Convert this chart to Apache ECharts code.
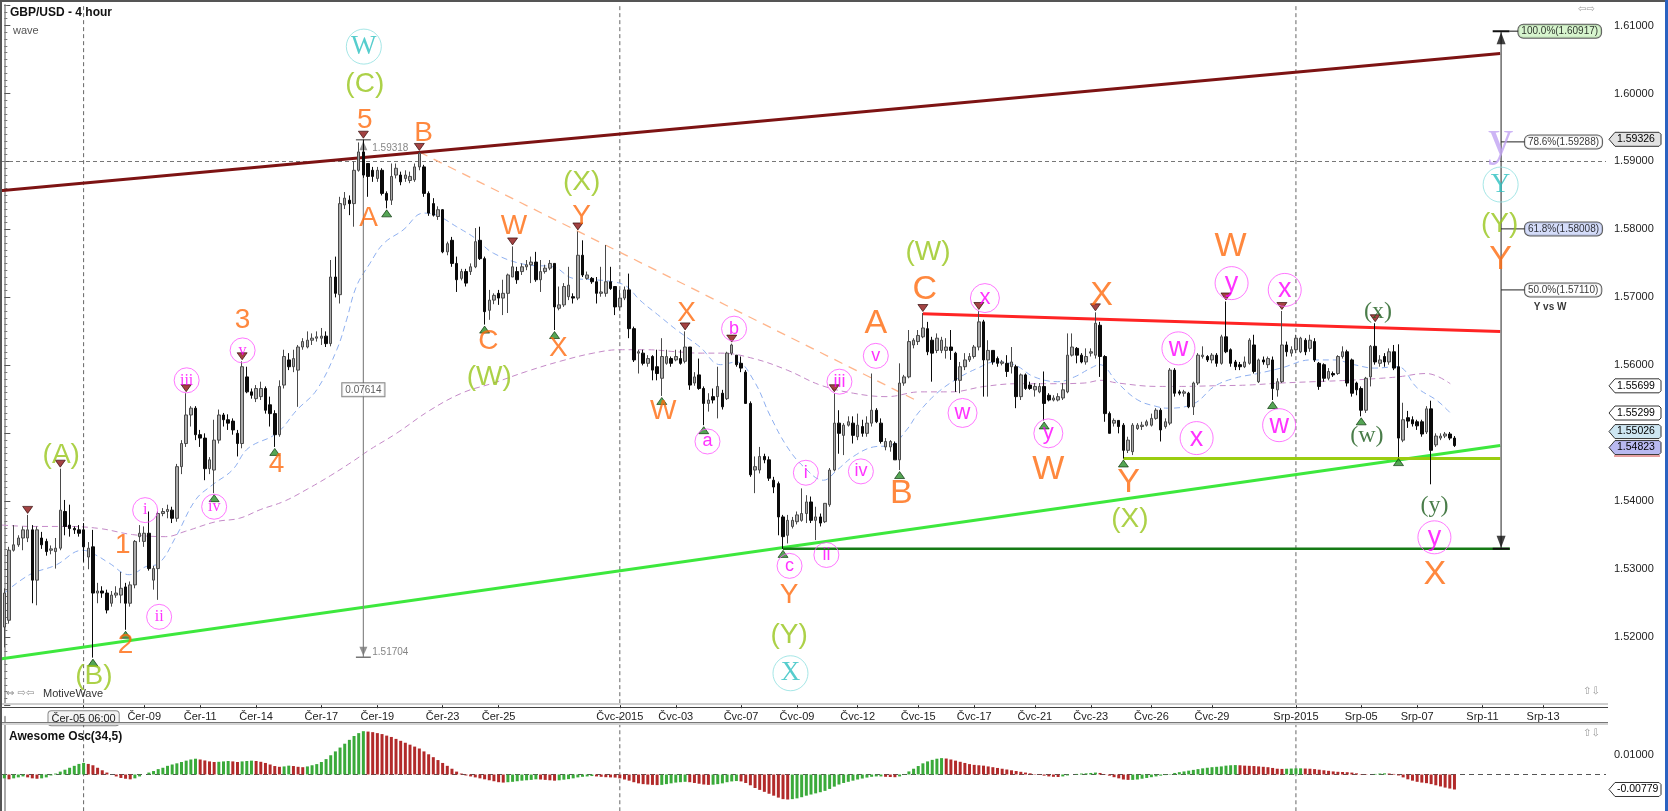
<!DOCTYPE html>
<html><head><meta charset="utf-8"><title>GBP/USD - 4 hour</title>
<script src="https://cdn.jsdelivr.net/npm/echarts@6.0.0/dist/echarts.min.js"></script>
<style>html,body{margin:0;padding:0;background:#fff;}#chart{width:1668px;height:811px;}</style>
</head><body><div id="chart"></div>
<script>
// ---------------- DATA ----------------
const SLOTS = 344;
const timeTicks = [[17,'Čer-05 06:00'],[30,'Čer-09'],[42,'Čer-11'],[54,'Čer-14'],[68,'Čer-17'],[80,'Čer-19'],[94,'Čer-23'],[106,'Čer-25'],[132,'Čvc-2015'],[144,'Čvc-03'],[158,'Čvc-07'],[170,'Čvc-09'],[183,'Čvc-12'],[196,'Čvc-15'],[208,'Čvc-17'],[221,'Čvc-21'],[233,'Čvc-23'],[246,'Čvc-26'],[259,'Čvc-29'],[277,'Srp-2015'],[291,'Srp-05'],[303,'Srp-07'],[317,'Srp-11'],[330,'Srp-13']];
// [open, close, low, high]
const ohlc = [
[1.5215,1.5265,1.5185,1.5272],[1.5225,1.5328,1.5220,1.5333],[1.5328,1.5336,1.5326,1.5365],[1.5336,1.5346,1.5333,1.5350],[1.5346,1.5358,1.5328,1.5363],
[1.5346,1.5358,1.5340,1.5380],[1.5358,1.5284,1.5250,1.5365],[1.5284,1.5358,1.5247,1.5363],[1.5346,1.5336,1.5330,1.5355],[1.5341,1.5326,1.5320,1.5345],
[1.5328,1.5330,1.5322,1.5335],[1.5326,1.5331,1.5301,1.5346],[1.5331,1.5387,1.5328,1.5448],[1.5385,1.5363,1.5350,1.5402],[1.5365,1.5360,1.5348,1.5395],
[1.5360,1.5358,1.5352,1.5363],[1.5358,1.5353,1.5348,1.5365],[1.5358,1.5333,1.5311,1.5368],[1.5318,1.5331,1.5300,1.5340],[1.5333,1.5265,1.5170,1.5358],
[1.5265,1.5268,1.5250,1.5280],[1.5268,1.5265,1.5258,1.5275],[1.5265,1.5240,1.5235,1.5270],[1.5250,1.5262,1.5245,1.5268],[1.5262,1.5265,1.5258,1.5275],
[1.5262,1.5272,1.5250,1.5296],[1.5274,1.5250,1.5211,1.5280],[1.5250,1.5277,1.5245,1.5282],[1.5277,1.5341,1.5272,1.5343],[1.5348,1.5353,1.5340,1.5365],
[1.5341,1.5353,1.5333,1.5363],[1.5353,1.5301,1.5298,1.5385],[1.5284,1.5301,1.5270,1.5305],[1.5301,1.5382,1.5255,1.5385],[1.5382,1.5385,1.5378,1.5390],
[1.5385,1.5388,1.5375,1.5395],[1.5387,1.5375,1.5368,1.5392],[1.5375,1.5451,1.5370,1.5455],[1.5451,1.5485,1.5440,1.5490],[1.5485,1.5527,1.5480,1.5559],
[1.5527,1.5537,1.5510,1.5540],[1.5537,1.5498,1.5490,1.5540],[1.5498,1.5493,1.5480,1.5505],[1.5493,1.5448,1.5431,1.5500],[1.5448,1.5461,1.5440,1.5465],
[1.5446,1.5490,1.5412,1.5520],[1.5490,1.5527,1.5485,1.5535],[1.5527,1.5520,1.5510,1.5530],[1.5520,1.5515,1.5505,1.5528],[1.5518,1.5505,1.5498,1.5522],
[1.5500,1.5485,1.5466,1.5505],[1.5485,1.5598,1.5478,1.5606],[1.5583,1.5561,1.5559,1.5598],[1.5561,1.5556,1.5551,1.5566],[1.5551,1.5566,1.5546,1.5571],
[1.5554,1.5566,1.5549,1.5576],[1.5566,1.5534,1.5529,1.5569],[1.5542,1.5529,1.5510,1.5554],[1.5529,1.5498,1.5480,1.5534],[1.5498,1.5569,1.5495,1.5578],
[1.5571,1.5613,1.5566,1.5623],[1.5608,1.5598,1.5593,1.5618],[1.5598,1.5610,1.5590,1.5623],[1.5593,1.5627,1.5539,1.5630],[1.5627,1.5635,1.5623,1.5640],
[1.5627,1.5637,1.5625,1.5650],[1.5637,1.5640,1.5630,1.5647],[1.5640,1.5642,1.5635,1.5650],[1.5640,1.5643,1.5630,1.5655],[1.5643,1.5632,1.5627,1.5650],
[1.5632,1.5730,1.5628,1.5755],[1.5730,1.5706,1.5700,1.5760],[1.5704,1.5838,1.5691,1.5848],[1.5836,1.5846,1.5830,1.5855],[1.5843,1.5838,1.5821,1.5850],
[1.5838,1.5887,1.5804,1.5900],[1.5887,1.5914,1.5885,1.5928],[1.5914,1.5880,1.5876,1.5932],[1.5897,1.5878,1.5848,1.5897],[1.5887,1.5878,1.5870,1.5892],
[1.5875,1.5887,1.5870,1.5892],[1.5887,1.5853,1.5850,1.5890],[1.5853,1.5843,1.5831,1.5856],[1.5843,1.5878,1.5836,1.5897],[1.5880,1.5890,1.5875,1.5897],
[1.5880,1.5870,1.5865,1.5885],[1.5875,1.5880,1.5870,1.5887],[1.5872,1.5878,1.5868,1.5885],[1.5873,1.5892,1.5870,1.5897],[1.5892,1.5912,1.5887,1.5914],
[1.5892,1.5853,1.5848,1.5895],[1.5853,1.5824,1.5820,1.5856],[1.5838,1.5821,1.5819,1.5846],[1.5819,1.5829,1.5814,1.5834],[1.5829,1.5767,1.5765,1.5830],
[1.5767,1.5779,1.5762,1.5782],[1.5784,1.5750,1.5745,1.5789],[1.5750,1.5726,1.5708,1.5760],[1.5728,1.5738,1.5725,1.5742],[1.5738,1.5721,1.5716,1.5742],
[1.5738,1.5745,1.5733,1.5750],[1.5745,1.5782,1.5743,1.5802],[1.5784,1.5757,1.5755,1.5804],[1.5757,1.5679,1.5660,1.5760],[1.5681,1.5696,1.5667,1.5711],
[1.5696,1.5703,1.5690,1.5706],[1.5706,1.5699,1.5689,1.5711],[1.5699,1.5706,1.5674,1.5726],[1.5706,1.5733,1.5677,1.5735],[1.5730,1.5745,1.5730,1.5775],
[1.5738,1.5726,1.5720,1.5745],[1.5738,1.5745,1.5733,1.5750],[1.5745,1.5748,1.5740,1.5755],[1.5748,1.5752,1.5721,1.5760],[1.5752,1.5726,1.5723,1.5767],
[1.5726,1.5738,1.5708,1.5755],[1.5738,1.5743,1.5735,1.5748],[1.5743,1.5750,1.5740,1.5755],[1.5750,1.5686,1.5652,1.5750],[1.5684,1.5689,1.5681,1.5716],
[1.5689,1.5716,1.5686,1.5721],[1.5701,1.5718,1.5696,1.5745],[1.5701,1.5699,1.5691,1.5706],[1.5699,1.5762,1.5696,1.5797],[1.5762,1.5733,1.5730,1.5784],
[1.5728,1.5733,1.5726,1.5738],[1.5728,1.5723,1.5720,1.5730],[1.5723,1.5706,1.5691,1.5730],[1.5706,1.5708,1.5701,1.5745],[1.5706,1.5723,1.5701,1.5777],
[1.5723,1.5713,1.5711,1.5745],[1.5716,1.5686,1.5674,1.5716],[1.5686,1.5699,1.5681,1.5711],[1.5699,1.5711,1.5696,1.5716],[1.5711,1.5654,1.5640,1.5735],
[1.5654,1.5608,1.5605,1.5657],[1.5618,1.5620,1.5588,1.5623],[1.5618,1.5603,1.5600,1.5623],[1.5603,1.5610,1.5598,1.5615],[1.5613,1.5593,1.5578,1.5615],
[1.5598,1.5588,1.5578,1.5623],[1.5581,1.5613,1.5555,1.5640],[1.5603,1.5613,1.5601,1.5623],[1.5610,1.5603,1.5598,1.5613],[1.5608,1.5613,1.5606,1.5623],
[1.5610,1.5603,1.5601,1.5623],[1.5606,1.5627,1.5603,1.5650],[1.5627,1.5571,1.5564,1.5627],[1.5574,1.5583,1.5570,1.5590],[1.5586,1.5566,1.5564,1.5610],
[1.5566,1.5544,1.5512,1.5569],[1.5544,1.5549,1.5532,1.5559],[1.5554,1.5549,1.5544,1.5566],[1.5554,1.5569,1.5522,1.5598],[1.5559,1.5539,1.5535,1.5564],
[1.5551,1.5618,1.5549,1.5620],[1.5618,1.5630,1.5615,1.5632],[1.5615,1.5601,1.5598,1.5615],[1.5603,1.5596,1.5590,1.5613],[1.5590,1.5544,1.5544,1.5593],
[1.5544,1.5439,1.5436,1.5547],[1.5446,1.5451,1.5412,1.5466],[1.5446,1.5466,1.5441,1.5480],[1.5466,1.5461,1.5456,1.5470],[1.5461,1.5434,1.5430,1.5466],
[1.5431,1.5421,1.5412,1.5436],[1.5426,1.5377,1.5350,1.5429],[1.5377,1.5348,1.5330,1.5380],[1.5350,1.5372,1.5338,1.5380],[1.5363,1.5372,1.5360,1.5377],
[1.5370,1.5380,1.5366,1.5385],[1.5372,1.5382,1.5370,1.5419],[1.5382,1.5399,1.5368,1.5409],[1.5399,1.5372,1.5368,1.5407],[1.5372,1.5377,1.5343,1.5392],
[1.5377,1.5368,1.5363,1.5382],[1.5370,1.5397,1.5368,1.5397],[1.5395,1.5446,1.5392,1.5449],[1.5446,1.5515,1.5444,1.5559],[1.5515,1.5500,1.5470,1.5534],
[1.5497,1.5512,1.5468,1.5515],[1.5512,1.5517,1.5510,1.5525],[1.5515,1.5497,1.5485,1.5525],[1.5495,1.5512,1.5490,1.5529],[1.5510,1.5500,1.5495,1.5520],
[1.5500,1.5515,1.5495,1.5525],[1.5515,1.5534,1.5510,1.5588],[1.5534,1.5517,1.5515,1.5537],[1.5515,1.5488,1.5485,1.5522],[1.5480,1.5488,1.5475,1.5493],
[1.5480,1.5488,1.5473,1.5490],[1.5485,1.5461,1.5461,1.5488],[1.5461,1.5574,1.5446,1.5603],[1.5574,1.5583,1.5570,1.5586],[1.5583,1.5635,1.5581,1.5652],
[1.5630,1.5637,1.5625,1.5640],[1.5635,1.5644,1.5630,1.5652],[1.5642,1.5655,1.5640,1.5677],[1.5654,1.5620,1.5615,1.5664],[1.5637,1.5618,1.5576,1.5642],
[1.5622,1.5640,1.5618,1.5647],[1.5622,1.5637,1.5618,1.5642],[1.5622,1.5627,1.5610,1.5640],[1.5627,1.5622,1.5608,1.5652],[1.5618,1.5578,1.5561,1.5620],
[1.5578,1.5598,1.5559,1.5605],[1.5598,1.5608,1.5593,1.5618],[1.5608,1.5613,1.5605,1.5618],[1.5613,1.5627,1.5610,1.5630],[1.5627,1.5664,1.5622,1.5680],
[1.5664,1.5608,1.5554,1.5667],[1.5608,1.5622,1.5554,1.5637],[1.5622,1.5605,1.5601,1.5622],[1.5610,1.5603,1.5598,1.5613],[1.5603,1.5605,1.5600,1.5608],
[1.5603,1.5591,1.5583,1.5615],[1.5598,1.5605,1.5588,1.5627],[1.5598,1.5554,1.5537,1.5601],[1.5554,1.5586,1.5549,1.5588],[1.5586,1.5566,1.5564,1.5588],
[1.5571,1.5566,1.5564,1.5576],[1.5564,1.5569,1.5554,1.5574],[1.5561,1.5569,1.5559,1.5574],[1.5569,1.5544,1.5519,1.5591],[1.5556,1.5549,1.5547,1.5559],
[1.5549,1.5552,1.5547,1.5556],[1.5549,1.5554,1.5547,1.5559],[1.5552,1.5564,1.5549,1.5574],[1.5561,1.5615,1.5559,1.5647],[1.5615,1.5627,1.5613,1.5647],
[1.5625,1.5615,1.5603,1.5627],[1.5615,1.5605,1.5603,1.5618],[1.5605,1.5613,1.5601,1.5625],[1.5618,1.5620,1.5613,1.5625],[1.5615,1.5662,1.5610,1.5678],
[1.5659,1.5613,1.5583,1.5664],[1.5613,1.5529,1.5517,1.5615],[1.5529,1.5500,1.5500,1.5532],[1.5515,1.5519,1.5510,1.5522],[1.5519,1.5510,1.5500,1.5519],
[1.5512,1.5475,1.5463,1.5515],[1.5475,1.5490,1.5471,1.5495],[1.5473,1.5512,1.5468,1.5515],[1.5507,1.5512,1.5505,1.5515],[1.5510,1.5512,1.5505,1.5517],
[1.5512,1.5517,1.5510,1.5520],[1.5512,1.5522,1.5510,1.5529],[1.5522,1.5534,1.5520,1.5537],[1.5534,1.5505,1.5488,1.5537],[1.5510,1.5517,1.5507,1.5522],
[1.5515,1.5593,1.5512,1.5596],[1.5593,1.5559,1.5554,1.5596],[1.5561,1.5559,1.5556,1.5564],[1.5559,1.5561,1.5554,1.5564],[1.5559,1.5539,1.5537,1.5561],
[1.5539,1.5574,1.5527,1.5576],[1.5574,1.5615,1.5571,1.5618],[1.5613,1.5615,1.5610,1.5628],[1.5613,1.5608,1.5605,1.5615],[1.5608,1.5615,1.5603,1.5618],
[1.5615,1.5603,1.5598,1.5618],[1.5603,1.5642,1.5601,1.5645],[1.5642,1.5620,1.5618,1.5694],[1.5623,1.5603,1.5598,1.5625],[1.5605,1.5598,1.5593,1.5608],
[1.5601,1.5598,1.5593,1.5605],[1.5598,1.5605,1.5596,1.5613],[1.5603,1.5637,1.5601,1.5640],[1.5630,1.5591,1.5588,1.5645],[1.5576,1.5608,1.5574,1.5610],
[1.5608,1.5605,1.5601,1.5613],[1.5601,1.5610,1.5596,1.5613],[1.5608,1.5566,1.5549,1.5613],[1.5564,1.5576,1.5554,1.5581],[1.5576,1.5630,1.5574,1.5680],
[1.5630,1.5620,1.5613,1.5635],[1.5618,1.5623,1.5613,1.5628],[1.5623,1.5640,1.5618,1.5645],[1.5620,1.5640,1.5618,1.5642],[1.5637,1.5620,1.5615,1.5640],
[1.5625,1.5637,1.5620,1.5645],[1.5635,1.5608,1.5605,1.5640],[1.5603,1.5569,1.5564,1.5605],[1.5601,1.5581,1.5576,1.5603],[1.5581,1.5591,1.5578,1.5596],
[1.5588,1.5586,1.5583,1.5591],[1.5588,1.5613,1.5586,1.5615],[1.5613,1.5620,1.5610,1.5628],[1.5620,1.5574,1.5569,1.5623],[1.5608,1.5559,1.5554,1.5610],
[1.5574,1.5564,1.5556,1.5576],[1.5566,1.5534,1.5525,1.5569],[1.5534,1.5581,1.5530,1.5583],[1.5583,1.5628,1.5569,1.5630],[1.5628,1.5605,1.5601,1.5662],
[1.5603,1.5608,1.5598,1.5615],[1.5613,1.5605,1.5598,1.5618],[1.5605,1.5620,1.5601,1.5625],[1.5620,1.5596,1.5593,1.5630],[1.5598,1.5493,1.5465,1.5631],
[1.5490,1.5520,1.5487,1.5545],[1.5523,1.5518,1.5508,1.5533],[1.5520,1.5514,1.5510,1.5525],[1.5517,1.5511,1.5505,1.5520],[1.5517,1.5499,1.5495,1.5520],
[1.5502,1.5536,1.5499,1.5540],[1.5536,1.5475,1.5425,1.5548],[1.5483,1.5496,1.5480,1.5500],[1.5493,1.5496,1.5490,1.5500],[1.5496,1.5499,1.5493,1.5502],
[1.5499,1.5493,1.5490,1.5502],[1.5493,1.5482,1.5480,1.5496]
];
const aoValues = [
-0.0020,-0.0025,-0.0020,-0.0015,-0.0010,-0.0015,-0.0020,-0.0022,-0.0020,-0.0015,
-0.0005,0.0005,0.0015,0.0025,0.0035,0.0045,0.0055,0.0060,0.0055,0.0048,
0.0035,0.0022,0.0010,0.0000,-0.0010,-0.0018,-0.0022,-0.0025,-0.0020,
-0.0010,0.0000,0.0010,0.0018,0.0028,0.0035,0.0045,0.0052,0.0058,0.0065,0.0072,0.0078,0.0082,
0.0078,0.0073,0.0068,0.0065,0.0066,0.0068,0.0070,0.0068,0.0065,0.0068,0.0070,0.0072,0.0070,0.0066,0.0060,0.0052,0.0044,0.0040,0.0042,0.0046,0.0044,0.0040,0.0038,0.0042,0.0048,0.0054,
0.0065,0.0080,0.0100,0.0120,0.0140,0.0160,0.0180,0.0200,0.0215,0.0225,
0.0223,0.0220,0.0215,0.0210,0.0202,0.0195,0.0185,0.0175,0.0165,0.0155,0.0145,0.0135,0.0120,0.0105,0.0090,0.0075,0.0060,0.0045,0.0030,0.0015,0.0005,-0.0005,
-0.0010,-0.0015,-0.0020,-0.0025,-0.0030,-0.0035,-0.0040,-0.0042,-0.0040,-0.0038,-0.0035,-0.0032,-0.0030,-0.0028,-0.0025,-0.0026,-0.0028,-0.0030,-0.0032,-0.0030,-0.0027,-0.0024,-0.0020,-0.0015,-0.0012,-0.0010,-0.0008,-0.0010,
-0.0012,-0.0014,-0.0015,-0.0016,-0.0020,-0.0026,-0.0032,-0.0040,-0.0046,-0.0050,-0.0052,-0.0054,-0.0055,-0.0054,-0.0050,-0.0046,-0.0042,-0.0040,-0.0038,
-0.0040,-0.0044,-0.0048,-0.0052,-0.0054,-0.0053,-0.0050,-0.0046,-0.0040,-0.0036,-0.0034,-0.0036,-0.0044,-0.0056,-0.0070,-0.0080,-0.0090,-0.0100,-0.0110,-0.0120,-0.0128,-0.0130,-0.0128,-0.0124,-0.0118,-0.0110,-0.0104,-0.0098,-0.0092,
-0.0085,-0.0075,-0.0063,-0.0052,-0.0044,-0.0038,-0.0032,-0.0026,-0.0021,-0.0016,-0.0012,-0.0010,-0.0010,-0.0012,-0.0013,-0.0014,-0.0010,0.0002,0.0016,0.0030,0.0044,
0.0058,0.0068,0.0076,0.0082,0.0085,0.0083,0.0078,0.0072,0.0066,0.0060,0.0054,0.0050,0.0048,0.0046,0.0042,0.0038,
0.0034,0.0030,0.0026,0.0022,0.0018,0.0014,0.0010,0.0006,0.0002,-0.0002,-0.0006,-0.0010,-0.0012,-0.0013,-0.0010,-0.0005,0.0000,0.0003,0.0005,0.0006,0.0008,0.0010,0.0008,0.0002,-0.0006,-0.0014,-0.0020,-0.0026,
-0.0028,-0.0028,-0.0026,-0.0022,-0.0018,-0.0014,-0.0010,-0.0006,-0.0003,0.0002,0.0008,0.0012,0.0016,0.0020,0.0024,0.0028,0.0032,0.0035,0.0038,0.0040,0.0042,0.0046,
0.0048,0.0049,0.0048,0.0046,0.0045,0.0044,0.0042,0.0040,0.0038,0.0034,0.0030,0.0029,0.0030,0.0031,0.0032,0.0032,0.0031,0.0030,0.0028,0.0025,0.0022,0.0019,0.0016,0.0014,0.0013,0.0012,0.0010,0.0006,
0.0002,-0.0002,0.0000,0.0003,0.0005,0.0006,0.0005,0.0003,-0.0005,-0.0015,-0.0025,-0.0032,-0.0038,-0.0042,-0.0045,-0.0050,-0.0056,-0.0062,-0.0068,-0.0073,-0.00779
];
const maBlue = [[0,1.5265],[5.4,1.5292],[11,1.5306],[16.8,1.5328],[19.6,1.5321],[22.5,1.5309],[26.8,1.5292],[30.4,1.5304],[33.2,1.5309],[36.8,1.5348],[41,1.5402],[44.6,1.5424],[48.9,1.5446],[52.3,1.5478],[58.4,1.5500],[62.7,1.5534],[67,1.5564],[71.3,1.5623],[73.4,1.5667],[75.5,1.5716],[78.4,1.5750],[81.3,1.5779],[85.5,1.5799],[89.9,1.5824],[92.7,1.5821],[97,1.5804],[101,1.5787],[104.9,1.5765],[112,1.5748],[117.7,1.5745],[122,1.5728],[126.3,1.5726],[130.6,1.5723],[133.5,1.5716],[136.3,1.5696],[140.6,1.5672],[144.2,1.5652],[149.2,1.5627],[153.6,1.5601],[157,1.5605],[160.7,1.5578],[164.3,1.5525],[167.9,1.5480],[171.4,1.5451],[175.7,1.5431],[178.6,1.5446],[182.1,1.5466],[186.4,1.5480],[190,1.5482],[193.5,1.5505],[196,1.5530],[200,1.5559],[204.5,1.5581],[208.8,1.5596],[212.4,1.5605],[216.6,1.5601],[220.9,1.5583],[225.9,1.5576],[229.5,1.5583],[233,1.5596],[234.9,1.5601],[238.8,1.5574],[243.1,1.5549],[247.4,1.5539],[249.5,1.5537],[255.2,1.5544],[259.5,1.5569],[263.8,1.5581],[268.8,1.5588],[273.8,1.5596],[280.2,1.5608],[285.2,1.5608],[289.5,1.5601],[293.8,1.5596],[298.8,1.5598],[303,1.5567],[307.3,1.5548],[310.1,1.5530]];
const maPurple = [[-0.5,1.5365],[6,1.5363],[13.2,1.5363],[20.4,1.5360],[27.5,1.5351],[34.6,1.5348],[38.9,1.5356],[45.4,1.5370],[50.4,1.5375],[55,1.5388],[60,1.5400],[65,1.5418],[70,1.5438],[75,1.5460],[78.4,1.5476],[84.1,1.5500],[91.3,1.5534],[98.4,1.5560],[104.9,1.5574],[112,1.5591],[119.2,1.5606],[126.3,1.5618],[132,1.5623],[137.7,1.5623],[144.2,1.5620],[149.2,1.5618],[153.6,1.5618],[160.7,1.5610],[167.9,1.5593],[175,1.5571],[182.1,1.5559],[189.3,1.5554],[196.4,1.5561],[203,1.5561],[210.2,1.5569],[217.4,1.5573],[224.5,1.5573],[231.6,1.5574],[235.2,1.5578],[238.8,1.5574],[247.4,1.5569],[252.4,1.5569],[259.5,1.5570],[266.6,1.5571],[273.8,1.5574],[280.9,1.5576],[288.1,1.5578],[295.2,1.5581],[298.8,1.5583],[305,1.5588],[310.1,1.5573]];
// wave labels: [text, index, price]
const waveOrange = [['1',25.4,1.5336],['2',26.0,1.5188],['3',51.1,1.5667],['4',58.4,1.5454],['5',77.3,1.5961],['A',78.1,1.5816],['B',89.9,1.5941],['C',103.8,1.5635],['W',109.3,1.5804],['X',118.8,1.5625],['Y',123.8,1.5819],['W',141.3,1.5532],['X',146.3,1.5677],['Y',168.3,1.5261]];
const waveOrangeLarge = [['A',186.9,1.5662],['B',192.4,1.5412],['C',197.4,1.5711],['W',223.9,1.5446],['X',235.3,1.5703],['Y',241.1,1.5427],['W',263.0,1.5774],['X',306.8,1.5292],['Y',320.9,1.5755]];
const waveLime = [['(A)',12.2,1.5468],['(B)',19.2,1.5142],['(C)',77.3,1.6013],['(W)',104.0,1.5583],['(X)',123.8,1.5870],['(Y)',168.3,1.5203],['(W)',198.1,1.5767],['(X)',241.4,1.5374],['(Y)',320.7,1.5807]];
const pinkRoman = [['i',30.2,1.5387],['ii',33.2,1.5230],['iii',39.1,1.5578],['iv',45.0,1.5392],['v',51.1,1.5622]];
const pinkSmall = [['a',150.8,1.5488],['b',156.5,1.5654],['c',168.4,1.5305],['i',171.9,1.5442],['ii',176.3,1.5321],['iii',179.1,1.5576],['iv',183.7,1.5444],['v',186.9,1.5614]];
const pinkMedium = [['w',205.5,1.5530],['x',210.3,1.5699],['y',223.9,1.5500]];
const pinkLarge = [['w',251.8,1.5625],['x',255.7,1.5493],['y',263.2,1.5721],['w',273.4,1.5512],['x',274.6,1.5711],['y',306.7,1.5347]];
const waveCyan = [['W',77.1,1.6069],['X',168.6,1.5147],['Y',320.9,1.5866]];
const waveDarkGreen = [['(x)',294.6,1.5679],['(w)',292.2,1.5496],['(y)',306.7,1.5394]];
const waveLavender = [['y',320.9,1.5931]];
const highMarks = [5,12,39,51,77,89,109,123,146,156,178,197,209,234,262,274,294];
const lowMarks = [19,26,45,58,82,103,118,141,150,167,192,223,240,272,291,299];
// trend lines [index, price]
const channelTop = [[-0.93,1.5857],[320.8,1.6059]];
const channelBottom = [[-0.93,1.5168],[320.8,1.5482]];
const triangleTop = [[197,1.5676],[320.8,1.5650]];
const yLowLine = [[240,1.5463],[320.8,1.5463]];
const cLowLine = [[167,1.53303],[322.9,1.53303]];
const bDashLine = [[89,1.5914],[196,1.5547]];
const fibLevels = [['100.0%(1.60917)',1.60917],['78.6%(1.59288)',1.59288],['61.8%(1.58008)',1.58008],['50.0%(1.57110)',1.57110]];
const fibBase = 1.53303, fibTop = 1.60917, fibIndex = 321;
const measure = {index:77, top:1.59318, bottom:1.51704, text:'0.07614', mid:1.5564};
const crosshair = {index:17, price:1.59326};
const separators = [132, 277];
// price-axis value tags: [text, price]
const axisMarks = [['1.59326',1.59326],['1.55699',1.55699],['1.55299',1.55299],['1.55026',1.55026],['1.54823',1.54823]];
const aoLast = -0.00779;

// ---------------- CHART ----------------
const chart = echarts.init(document.getElementById('chart'), null, {width:1668, height:811});
const cats = Array.from({length: SLOTS}, (_, i) => String(i));
const tickMap = new Map(timeTicks.map(t => [t[0], t[1]]));
const SANS = 'Liberation Sans, Arial, sans-serif';
const SERIF = 'Liberation Serif, Times New Roman, serif';
const CLEAR = 'rgba(255,255,255,0)';

function lineSeries(data, color, width, type, z, xi, yi) {
  return {type:'line', xAxisIndex: xi === undefined ? 1 : xi, yAxisIndex: yi === undefined ? 0 : yi, data, symbol:'none', silent:true, z: z || 5,
    lineStyle:{color, width, type: type || 'solid'}, animation:false, emphasis:{disabled:true}};
}
function textSeries(arr, opt) {
  return {type:'scatter', xAxisIndex:1, yAxisIndex:0, silent:true, z: opt.z || 30, animation:false,
    symbol:'circle', symbolSize: opt.ring ? opt.ring : 1,
    itemStyle: opt.ring ? {color:CLEAR, borderColor: opt.ringColor, borderWidth: 1} : {color:CLEAR},
    label:{show:true, position:'inside', formatter:'{b}', color: opt.color, fontSize: opt.size, fontFamily: opt.font || SANS, fontWeight: opt.weight || 'normal'},
    emphasis:{disabled:true},
    data: arr.map(a => ({name:a[0], value:[a[1], a[2]]}))};
}

const series = [];
// candles
series.push({type:'candlestick', xAxisIndex:0, yAxisIndex:0, data: ohlc, barWidth:3, z:10, animation:false, silent:true,
  itemStyle:{color:'#a9a9a9', color0:'#0a0a0a', borderColor:'#4a4a4a', borderColor0:'#0a0a0a', borderWidth:1},
  markLine:{silent:true, symbol:['none','none'], animation:false,
    data:[{yAxis: crosshair.price, lineStyle:{color:'#777', type:[4,3], width:1}, label:{show:false}}]}});
// moving averages
series.push(Object.assign(lineSeries(maBlue, '#8fb0f0', 1, [6,4], 6), {smooth:0.4}));
series.push(Object.assign(lineSeries(maPurple, '#c58ac8', 1, [6,4], 6), {smooth:0.4}));
// trend lines
series.push(lineSeries(channelTop, '#7d1313', 3, 'solid', 8));
series.push(lineSeries(channelBottom, '#3de83d', 3, 'solid', 8));
series.push(lineSeries(triangleTop, '#ff2424', 3, 'solid', 8));
series.push(lineSeries(yLowLine, '#9acd10', 3, 'solid', 8));
series.push(lineSeries(cLowLine, '#157a15', 2.5, 'solid', 8));
series.push(lineSeries(bDashLine, '#ffb48a', 1.3, [9,7], 7));
// separators / crosshair vertical
[crosshair.index].concat(separators).forEach(ix => {
  series.push(lineSeries([[ix,1.50],[ix,1.62]], '#666', 1, [4,3], 4));
  series.push(lineSeries([[ix,-0.03],[ix,0.04]], '#666', 1, [4,3], 4, 3, 1));
});
// measurement tool
series.push(lineSeries([[measure.index, measure.top],[measure.index, measure.bottom]], '#888', 1.2, 'solid', 9));
series.push(lineSeries([[measure.index-1.6, measure.top],[measure.index+1.6, measure.top]], '#777', 1.5, 'solid', 9));
series.push(lineSeries([[measure.index-1.6, measure.bottom],[measure.index+1.6, measure.bottom]], '#777', 1.5, 'solid', 9));
series.push({type:'scatter', xAxisIndex:1, yAxisIndex:0, silent:true, z:9, animation:false, symbol:'triangle', symbolSize:[8,9], symbolOffset:[0,6],
  itemStyle:{color:'#777'}, data:[[measure.index, measure.top]]});
series.push({type:'scatter', xAxisIndex:1, yAxisIndex:0, silent:true, z:9, animation:false, symbol:'path://M0,0 L10,0 L5,10 Z', symbolSize:[8,9], symbolOffset:[0,-6],
  itemStyle:{color:'#777'}, data:[[measure.index, measure.bottom]]});
series.push({type:'scatter', xAxisIndex:1, yAxisIndex:0, silent:true, z:12, animation:false, symbol:'circle', symbolSize:1, itemStyle:{color:CLEAR},
  label:{show:true, position:'inside', formatter:'{b}', fontSize:10, fontFamily:SANS, color:'#333', backgroundColor:'#fff', borderColor:'#666', borderWidth:1, padding:[2,3,1,3]},
  data:[{name:measure.text, value:[measure.index, measure.mid]}]});
series.push({type:'scatter', xAxisIndex:1, yAxisIndex:0, silent:true, z:12, animation:false, symbol:'circle', symbolSize:1, itemStyle:{color:CLEAR},
  label:{show:true, position:'right', distance:0, formatter:'{b}', fontSize:10, fontFamily:SANS, color:'#666'},
  data:[{name:measure.top.toFixed(5), value:[78.8, 1.5919]},{name:measure.bottom.toFixed(5), value:[78.8, 1.5178]}]});
// fibonacci tool
series.push(lineSeries([[fibIndex, fibBase],[fibIndex, fibTop]], '#222', 1, 'solid', 15));
series.push(lineSeries([[fibIndex-1.8, fibTop],[fibIndex+1.8, fibTop]], '#111', 2, 'solid', 15));
series.push(lineSeries([[fibIndex+1.8, fibTop],[fibIndex+3.8, fibTop]], '#111', 1, 'solid', 15));
series.push(lineSeries([[fibIndex-1.8, fibBase],[fibIndex+1.8, fibBase]], '#111', 2, 'solid', 15));
fibLevels.slice(1).forEach(f => series.push(lineSeries([[fibIndex, f[1]],[fibIndex+5.1, f[1]]], '#222', 1, 'solid', 15)));
series.push({type:'scatter', xAxisIndex:1, yAxisIndex:0, silent:true, z:16, animation:false, symbol:'triangle', symbolSize:[9,12], symbolOffset:[0,7],
  itemStyle:{color:'#111'}, data:[[fibIndex, fibTop]]});
series.push({type:'scatter', xAxisIndex:1, yAxisIndex:0, silent:true, z:16, animation:false, symbol:'path://M0,0 L10,0 L5,12 Z', symbolSize:[9,12], symbolOffset:[0,-7],
  itemStyle:{color:'#111'}, data:[[fibIndex, fibBase]]});
const fibBg = ['#cdf3c2', '#ffffff', '#c9d3f7', '#ffffff'];
series.push({type:'scatter', xAxisIndex:1, yAxisIndex:0, silent:true, z:17, animation:false, symbol:'circle', symbolSize:1, itemStyle:{color:CLEAR},
  label:{show:true, position:'right', distance:0, formatter:'{b}', fontSize:10, fontFamily:SANS, color:'#000', borderColor:'#333', borderWidth:1, borderRadius:5, padding:[2,3,1,3]},
  data: fibLevels.map((f, k) => ({name:f[0], value:[k === 0 ? 324.6 : 326.0, f[1]], label:{backgroundColor: fibBg[k]}}))});
series.push({type:'scatter', xAxisIndex:1, yAxisIndex:0, silent:true, z:17, animation:false, symbol:'circle', symbolSize:1, itemStyle:{color:CLEAR},
  label:{show:true, position:'inside', formatter:'{b}', fontSize:10, fontFamily:SANS, fontWeight:'bold', color:'#000'},
  data:[{name:'Y vs W', value:[331.5, 1.5686]}]});
// swing markers
series.push({type:'scatter', xAxisIndex:1, yAxisIndex:0, silent:true, z:20, animation:false, symbol:'path://M0,0 L10,0 L5,7 Z', symbolSize:[10,7], symbolOffset:[0,-5],
  itemStyle:{color:'#8c1414', borderColor:'#2a0000', borderWidth:0.8}, data: highMarks.map(i => [i, ohlc[i][3]])});
series.push({type:'scatter', xAxisIndex:1, yAxisIndex:0, silent:true, z:20, animation:false, symbol:'path://M5,0 L10,7 L0,7 Z', symbolSize:[10,7], symbolOffset:[0,5],
  itemStyle:{color:'#2b8f2b', borderColor:'#002a00', borderWidth:0.8}, data: lowMarks.map(i => [i, ohlc[i][2]])});
// wave labels
series.push(textSeries(waveOrange, {color:'#ff6a0e', size:28}));
series.push(textSeries(waveOrangeLarge, {color:'#ff6a0e', size:34}));
series.push(textSeries(waveLime, {color:'#97c61a', size:28}));
series.push(textSeries(pinkRoman, {color:'#ff00ff', size:16, font:SERIF, ring:25, ringColor:'#ff55ff'}));
series.push(textSeries(pinkSmall, {color:'#ff00ff', size:18, ring:25, ringColor:'#ff55ff'}));
series.push(textSeries(pinkMedium, {color:'#ff00ff', size:22, ring:29, ringColor:'#ff55ff'}));
series.push(textSeries(pinkLarge, {color:'#ff00ff', size:27, ring:33, ringColor:'#ff55ff'}));
series.push(textSeries(waveCyan, {color:'#2cc0c0', size:27, font:SERIF, ring:35, ringColor:'#8fe0e0'}));
series.push(textSeries(waveDarkGreen, {color:'#1d5c1d', size:24, font:SERIF}));
series.push(textSeries(waveLavender, {color:'#c1a2f2', size:50, font:SERIF}));
// awesome oscillator
series.push({type:'bar', xAxisIndex:2, yAxisIndex:1, barWidth:3, silent:true, animation:false, z:5,
  data: aoValues.map((v, i) => ({value:v, itemStyle:{color: (i > 0 && v < aoValues[i-1]) ? '#b22a2a' : '#3aaa3a'}})),
  markLine:{silent:true, symbol:['none','none'], animation:false, data:[
    {yAxis:0, lineStyle:{color:'#555', type:[5,4], width:1}, label:{show:false}}]}});

const staticGraphic = [
  {type:'rect', shape:{x:0, y:0, width:1668, height:2}, style:{fill:'#555'}, silent:true, z:100},
  {type:'rect', shape:{x:0, y:0, width:2, height:811}, style:{fill:'#555'}, silent:true, z:100},
  {type:'rect', shape:{x:1665, y:0, width:3, height:811}, style:{fill:'#2a62c0'}, silent:true, z:100},
  {type:'rect', shape:{x:0, y:703, width:1608, height:2}, style:{fill:'#cfcfcf'}, silent:true, z:90},
  {type:'rect', shape:{x:0, y:707, width:1608, height:1}, style:{fill:'#444'}, silent:true, z:90},
  {type:'rect', shape:{x:0, y:722, width:1608, height:1}, style:{fill:'#777'}, silent:true, z:90},
  {type:'rect', shape:{x:0, y:723, width:1608, height:2}, style:{fill:'#d4d4d4'}, silent:true, z:90},
  {type:'text', x:10, y:7, style:{text:'GBP/USD - 4 hour', font:'bold 12px ' + SANS, fill:'#111'}, silent:true, z:100},
  {type:'text', x:13, y:25, style:{text:'wave', font:'11px ' + SANS, fill:'#555'}, silent:true, z:100},
  {type:'text', x:6, y:688, style:{text:'⇔ ⇨⇦', font:'10px DejaVu Sans', fill:'#888'}, silent:true, z:100},
  {type:'text', x:43, y:688, style:{text:'MotiveWave', font:'11px ' + SANS, fill:'#333'}, silent:true, z:100},
  {type:'text', x:9, y:731, style:{text:'Awesome Osc(34,5)', font:'bold 12px ' + SANS, fill:'#111'}, silent:true, z:100},
  {type:'text', x:1578, y:4, style:{text:'⇦⇨', font:'10px DejaVu Sans', fill:'#999'}, silent:true, z:100},
  {type:'text', x:1583, y:686, style:{text:'⇧⇩', font:'10px DejaVu Sans', fill:'#999'}, silent:true, z:100},
  {type:'text', x:1583, y:728, style:{text:'⇧⇩', font:'10px DejaVu Sans', fill:'#999'}, silent:true, z:100}
];

const option = {
  backgroundColor:'#ffffff', animation:false,
  grid:[{left:2, top:5, width:1604, height:700.2, outerBoundsMode:'none'},
        {left:2, top:716.75, width:1604, height:96.25, outerBoundsMode:'none'}],
  xAxis:[
    {type:'category', gridIndex:0, data:cats, boundaryGap:true,
      axisLine:{show:false},
      axisTick:{show:true, alignWithLabel:true, length:3, interval:(i) => tickMap.has(i), lineStyle:{color:'#222'}},
      axisLabel:{interval:(i) => tickMap.has(i), margin:6, fontSize:11, fontFamily:SANS, color:'#222',
        formatter:(v) => { const t = tickMap.get(Number(v)) || ''; return Number(v) === crosshair.index ? '{box|' + t + '}' : t; },
        rich:{box:{fontSize:11, fontFamily:SANS, color:'#222', backgroundColor:'#f3f3f3', borderColor:'#888', borderWidth:1, borderRadius:3, padding:[2,3,1,3]}}},
      splitLine:{show:false}},
    {type:'value', gridIndex:0, min:-0.5, max:SLOTS-0.5, show:false},
    {type:'category', gridIndex:1, data:cats, boundaryGap:true, show:false},
    {type:'value', gridIndex:1, min:-0.5, max:SLOTS-0.5, show:false}
  ],
  yAxis:[
    {type:'value', gridIndex:0, position:'right', min:1.51, max:1.61302, interval:0.01, scale:true,
      axisLine:{show:true, lineStyle:{color:'#aaa', width:2}},
      axisTick:{show:true, length:6, lineStyle:{color:'#555'}},
      minorTick:{show:true, splitNumber:10, length:3, lineStyle:{color:'#777'}},
      axisLabel:{showMinLabel:false, showMaxLabel:false, margin:8, fontSize:11, fontFamily:SANS, color:'#222', formatter:(v) => v.toFixed(5)},
      splitLine:{show:false}},
    {type:'value', gridIndex:1, position:'right', min:-0.02, max:0.03, interval:0.01,
      axisLine:{show:true, lineStyle:{color:'#aaa', width:2}},
      axisTick:{show:false},
      axisLabel:{showMinLabel:false, showMaxLabel:false, margin:8, fontSize:11, fontFamily:SANS, color:'#222',
        formatter:(v) => Math.abs(v - 0.01) < 1e-9 ? '0.01000' : ''},
      splitLine:{show:false}}
  ],
  series,
  graphic: staticGraphic
};
chart.setOption(option);

// value tags on the price axes, positioned through the axis scales (pushed apart when they would overlap)
function valueTag(y, text, fill, underline) {
  const kids = [
    {type:'polygon', z:200, shape:{points:[[1609,y],[1615,y-7],[1659,y-7],[1661,y-5],[1661,y+5],[1659,y+7],[1615,y+7]]}, style:{fill, stroke:'#333', lineWidth:1}},
    {type:'text', z:201, x:1617, y:y, style:{text, font:'10.5px ' + SANS, fill:'#000', verticalAlign:'middle', textAlign:'left'}}
  ];
  if (underline) kids.push({type:'rect', z:200, shape:{x:1614, y:y+7.5, width:46, height:2}, style:{fill:'#e8a0a0'}});
  return {type:'group', silent:true, z:200, children:kids};
}
const tagFills = ['#e2e2e2', '#ffffff', '#ffffff', '#cde6f2', '#b9b9f0'];
const tagYs = axisMarks.map(m => chart.convertToPixel({yAxisIndex:0}, m[1]));
for (let k = 1; k < tagYs.length; k++) { if (tagYs[k] - tagYs[k-1] < 16) tagYs[k] = tagYs[k-1] + 16; }
const tags = axisMarks.map((m, k) => valueTag(tagYs[k], m[0], tagFills[k], k === 4));
tags.push(valueTag(chart.convertToPixel({yAxisIndex:1}, aoLast), aoLast.toFixed(5), '#ffffff', false));
chart.setOption({graphic: staticGraphic.concat(tags)});
</script></body></html>
